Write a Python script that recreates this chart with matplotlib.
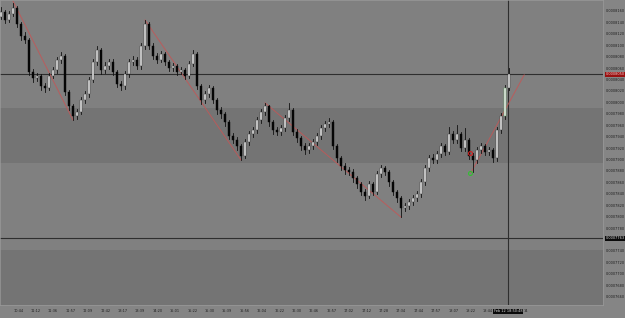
import matplotlib
matplotlib.use('Agg')
import matplotlib.pyplot as plt
from matplotlib.patches import Rectangle
from matplotlib.transforms import blended_transform_factory

# prices in units of 1e-10 (8160 -> 0.0008160)
opens = [8150, 8159, 8145, 8155, 8166, 8138, 8117, 8110, 8054, 8043,
         8047, 8029, 8026, 8047, 8057, 8075, 8082, 8019, 7994, 7977,
         7984, 8005, 8015, 8040, 8071, 8092, 8057, 8064, 8071, 8054,
         8033, 8029, 8050, 8071, 8075, 8064, 8099, 8138, 8099, 8082,
         8075, 8085, 8071, 8061, 8064, 8054, 8057, 8047, 8068, 8085,
         8029, 8005, 8015, 8026, 8005, 7987, 7980, 7966, 7942, 7935,
         7924, 7907, 7931, 7945, 7952, 7970, 7984, 7994, 7966, 7952,
         7949, 7956, 7973, 7987, 7949, 7938, 7924, 7917, 7924, 7931,
         7942, 7956, 7963, 7966, 7924, 7903, 7889, 7882, 7879, 7868,
         7858, 7844, 7837, 7858, 7844, 7875, 7886, 7879, 7861, 7844,
         7833, 7816, 7819, 7826, 7833, 7840, 7861, 7886, 7903, 7900,
         7910, 7924, 7914, 7945, 7935, 7945, 7921, 7935, 7907, 7900,
         7917, 7924, 7914, 7917, 7903, 7952, 7977, 8026]
highs = [8168, 8163, 8160, 8175, 8170, 8142, 8124, 8114, 8059, 8052,
         8050, 8034, 8052, 8062, 8080, 8089, 8086, 8022, 7998, 7990,
         8010, 8020, 8045, 8076, 8100, 8096, 8071, 8077, 8076, 8058,
         8038, 8055, 8077, 8082, 8080, 8104, 8145, 8141, 8104, 8087,
         8091, 8089, 8075, 8070, 8068, 8063, 8061, 8073, 8092, 8089,
         8033, 8021, 8031, 8030, 8009, 7992, 7984, 7970, 7947, 7940,
         7928, 7936, 7950, 7958, 7976, 7989, 8000, 7997, 7970, 7957,
         7962, 7978, 8000, 7991, 7954, 7942, 7929, 7930, 7937, 7947,
         7962, 7969, 7973, 7970, 7928, 7907, 7894, 7887, 7884, 7872,
         7862, 7849, 7863, 7862, 7880, 7892, 7890, 7883, 7865, 7848,
         7837, 7825, 7831, 7838, 7846, 7866, 7891, 7909, 7910, 7916,
         7930, 7928, 7958, 7950, 7961, 7949, 7956, 7939, 7912, 7922,
         7930, 7928, 7923, 7921, 7957, 7982, 8031, 8061]
lows = [8146, 8140, 8141, 8152, 8133, 8110, 8104, 8049, 8036, 8038,
        8022, 8019, 8022, 8043, 8053, 8070, 8014, 7988, 7970, 7972,
        7980, 8000, 8010, 8036, 8066, 8050, 8052, 8059, 8048, 8027,
        8022, 8025, 8046, 8066, 8059, 8060, 8094, 8094, 8077, 8069,
        8071, 8066, 8055, 8056, 8048, 8050, 8041, 8043, 8064, 8024,
        7998, 8000, 8010, 7999, 7981, 7974, 7960, 7936, 7929, 7918,
        7900, 7903, 7926, 7940, 7947, 7965, 7979, 7960, 7946, 7943,
        7944, 7951, 7969, 7943, 7932, 7918, 7911, 7912, 7919, 7926,
        7937, 7951, 7958, 7919, 7897, 7883, 7876, 7873, 7862, 7851,
        7838, 7830, 7833, 7838, 7840, 7870, 7873, 7855, 7838, 7827,
        7800, 7810, 7814, 7821, 7828, 7836, 7857, 7881, 7894, 7895,
        7905, 7908, 7910, 7929, 7930, 7915, 7916, 7901, 7879, 7895,
        7912, 7908, 7909, 7897, 7899, 7947, 7972, 8022]
closes = [8159, 8145, 8155, 8166, 8138, 8117, 8110, 8054, 8043, 8047,
          8029, 8026, 8047, 8057, 8075, 8082, 8019, 7994, 7977, 7984,
          8005, 8015, 8040, 8071, 8092, 8057, 8064, 8071, 8054, 8033,
          8029, 8050, 8071, 8075, 8064, 8099, 8138, 8099, 8082, 8075,
          8085, 8071, 8061, 8064, 8054, 8057, 8047, 8068, 8085, 8029,
          8005, 8015, 8026, 8005, 7987, 7980, 7966, 7942, 7935, 7924,
          7907, 7931, 7945, 7952, 7970, 7984, 7994, 7966, 7952, 7949,
          7956, 7973, 7987, 7949, 7938, 7924, 7917, 7924, 7931, 7942,
          7956, 7963, 7966, 7924, 7903, 7889, 7882, 7879, 7868, 7858,
          7844, 7837, 7858, 7844, 7875, 7886, 7879, 7861, 7844, 7833,
          7816, 7819, 7826, 7833, 7840, 7861, 7886, 7903, 7900, 7910,
          7924, 7914, 7945, 7935, 7945, 7921, 7935, 7907, 7900, 7917,
          7924, 7914, 7917, 7903, 7952, 7977, 8026, 8050]

time_labels = ['10:44', '11:12', '11:36', '11:57', '12:09', '12:42', '13:17',
               '13:39', '14:20', '15:01', '15:22', '15:30', '15:39', '15:56',
               '16:04', '16:22', '16:30', '16:46', '16:57', '17:02', '17:12',
               '17:28', '17:34', '17:44', '17:57', '18:07', '18:22', '18:44']
# 7760 sits under the crosshair price box, so it is not shown
price_ticks = [8160, 8140, 8120, 8100, 8080, 8060, 8040, 8020, 8000, 7980,
               7960, 7940, 7920, 7900, 7880, 7860, 7840, 7820, 7800, 7780,
               7740, 7720, 7700, 7680, 7660]

# trend lines: (bar index, price) pairs
trend_lines = [((3, 8178), (18, 7970)),
               ((36, 8145), (60, 7900)),
               ((66, 8000), (100, 7800)),
               ((117.5, 7878), (130.8, 8049))]
zones = [(7895, 7991), (7646, 7742)]
last_price = 8050
cross_price = 7763
cross_bar = 126.75
cross_time = 'Feb 12 18:50:48'
signal_up = (117.3, 7877)
signal_down = (117.3, 7912)

FS = 2.5
BG = '#808080'
fig = plt.figure(figsize=(6.25, 3.18), dpi=100, facecolor='#858585')
ax = fig.add_axes([0, 13 / 318, 603 / 625, 305 / 318])
ax.set_facecolor(BG)
ax.set_xlim(-0.25, 150.5)
ax.set_ylim(7646.25, 8180)

for lo, hi in zones:
    ax.axhspan(lo, hi, color='#747474', lw=0, zorder=0)

ax.axhline(last_price, color='#2e2e2e', lw=0.8, zorder=1)
ax.axhline(cross_price, color='#2e2e2e', lw=0.8, zorder=1)
ax.axvline(cross_bar, color='#2e2e2e', lw=0.8, zorder=1)

for (x0, p0), (x1, p1) in trend_lines:
    ax.plot([x0, x1], [p0, p1], color='#c45656', lw=0.7, alpha=0.85, zorder=2)

w = 0.6
for i, (o, h, l, c) in enumerate(zip(opens, highs, lows, closes)):
    ax.plot([i, i], [l, h], color='#111111', lw=0.6, zorder=3)
    if c >= o:
        fc, ec = '#e6e6e6', '#333333'
    else:
        fc, ec = '#050505', '#050505'
    if i == 126:
        ec = '#62a862'
    ax.add_patch(Rectangle((i - w / 2, min(o, c)), w, max(abs(c - o), 1.0),
                           facecolor=fc, edgecolor=ec, lw=0.3, zorder=4))

ax.plot(*signal_down, 'o', ms=2.8, mfc='none', mec='#d02020', mew=0.8, zorder=5)
ax.plot(*signal_up, 'o', ms=2.8, mfc='none', mec='#30c030', mew=0.8, zorder=5)

ax.set_xticks([])
ax.set_yticks([])
for s in ax.spines.values():
    s.set_color('#9a9a9a')
    s.set_linewidth(0.5)

# price scale on the right
ty = blended_transform_factory(ax.transAxes, ax.transData)
for p in price_ticks:
    ax.text(1.005, p, '0.000%d' % p, transform=ty, fontsize=FS, color='#1e1e1e',
            ha='left', va='center', clip_on=False)
ax.text(1.004, last_price, '0.000%d' % last_price, transform=ty, fontsize=FS,
        color='#f0d0d0', ha='left', va='center', clip_on=False,
        bbox=dict(boxstyle='square,pad=0.2', fc='#9a1010', ec='none'))
ax.text(1.004, cross_price, '0.000%d' % cross_price, transform=ty, fontsize=FS,
        color='#e0e0e0', ha='left', va='center', clip_on=False,
        bbox=dict(boxstyle='square,pad=0.2', fc='#0a0a0a', ec='none'))

# time scale at the bottom
tx = blended_transform_factory(ax.transData, ax.transAxes)
for k, lab in enumerate(time_labels):
    ax.text(4.32 + 4.35 * k, -0.021, lab, transform=tx, fontsize=FS,
            color='#1e1e1e', ha='center', va='center', clip_on=False)
ax.text(cross_bar, -0.021, cross_time, transform=tx, fontsize=FS, color='#e0e0e0',
        ha='center', va='center', clip_on=False,
        bbox=dict(boxstyle='square,pad=0.2', fc='#0a0a0a', ec='none'))
ax.text(131.3, -0.021, '14', transform=tx, fontsize=FS, color='#1e1e1e',
        ha='center', va='center', clip_on=False)

fig.savefig('out.png', dpi=100, facecolor=fig.get_facecolor())
